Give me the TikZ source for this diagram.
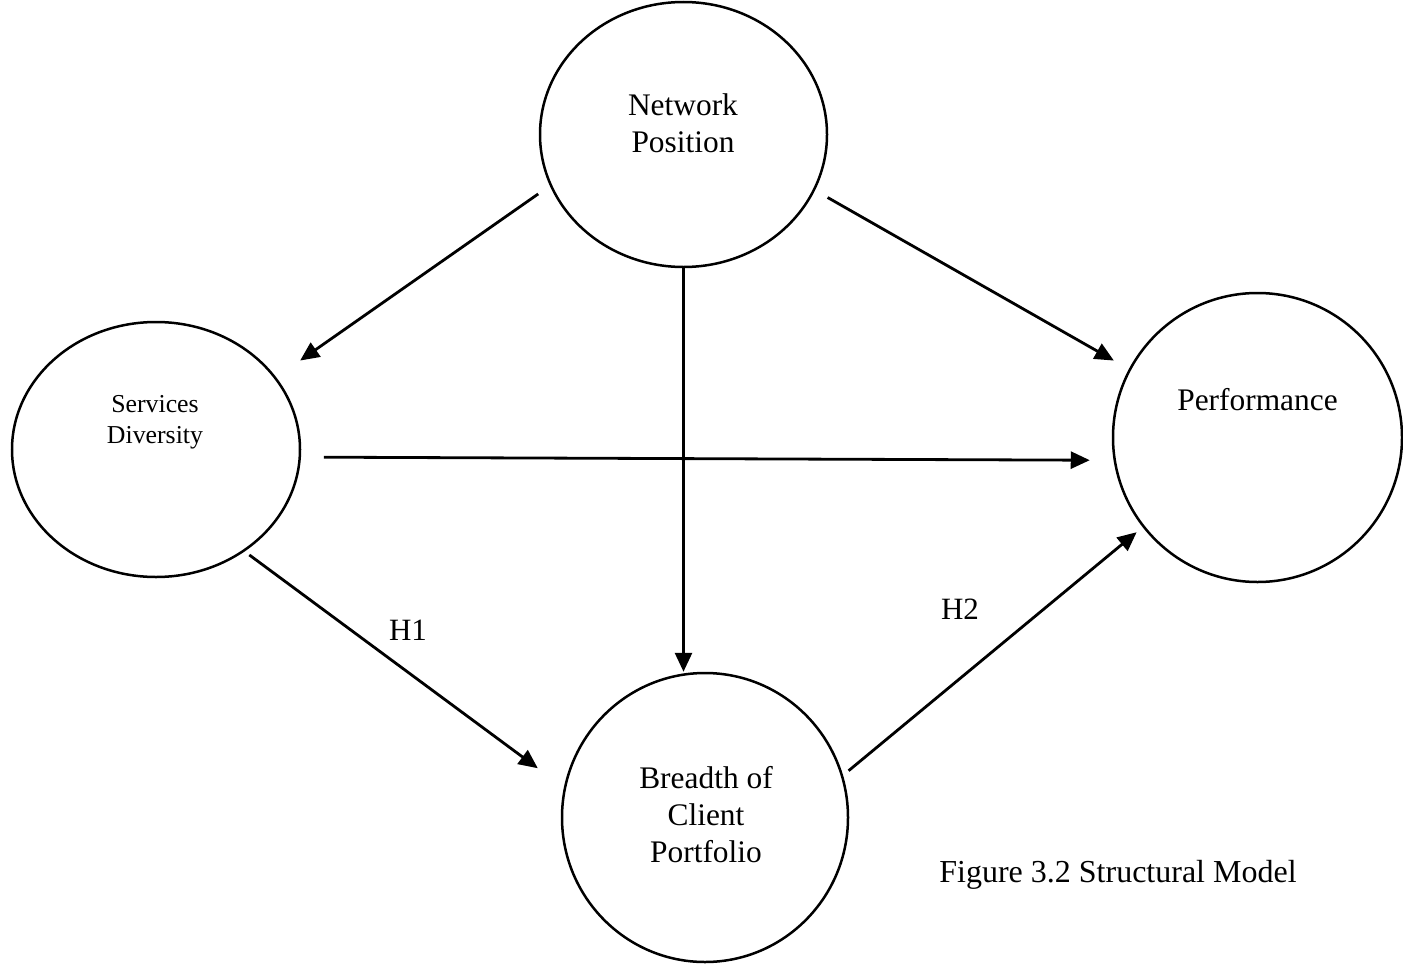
\documentclass[tikz,border=0pt]{standalone}
\usepackage{fontspec}
\setmainfont{Liberation Serif}
\usetikzlibrary{shapes.geometric,arrows.meta}
\begin{document}
\begin{tikzpicture}[x=0.5pt,y=-0.5pt,
  construct/.style={draw, ellipse, line width=1.25pt, inner sep=0pt},
  ctext/.style={align=center, inner sep=0pt, font=\fontsize{15.7}{18.5}\selectfont},
  stext/.style={align=center, inner sep=0pt, font=\fontsize{12.9}{15.5}\selectfont},
  htext/.style={inner sep=0pt, font=\fontsize{15.5}{18}\selectfont},
  patharrow/.style={-{Triangle[length=9.5pt,width=8.5pt]}, line width=1.4pt}]
\useasboundingbox (0,0) rectangle (1403,969);

% latent constructs
\node[construct, minimum width=143.5pt, minimum height=132.5pt] (np) at (683.5,134.5) {};
\node[construct, minimum width=144pt, minimum height=127.5pt] (sd) at (156,449.5) {};
\node[construct, minimum width=144.5pt, minimum height=144.5pt] (pf) at (1257.5,437.5) {};
\node[construct, minimum width=143pt, minimum height=144.5pt] (bc) at (705,817.5) {};

% construct names
\node[ctext] (npt) at (683,123) {Network\\Position};
\node[stext] (sdt) at (155,422) {Services\\Diversity};
\node[ctext] (pft) at (1257.5,400) {Performance};
\node[ctext] (bct) at (706,815) {Breadth of\\Client\\Portfolio};

% structural paths
\draw[patharrow, shorten <=7.1pt, shorten >=14.6pt] (np.201.7) -- (sd.31.2);
\draw[patharrow, shorten <=7.25pt, shorten >=8.6pt] (np.337.5) -- (pf.152.9);
\draw[patharrow] (np.south) -- (np.south |- bc.north);
\draw[patharrow, shorten <=11.5pt, shorten >=11.9pt] (sd.-3) -- (pf.189);
\draw[patharrow, shorten <=2.9pt, shorten >=16.2pt] (sd.311.8) -- (bc.168.4);
\draw[patharrow, shorten <=3.6pt, shorten >=3.9pt] (bc.17.3) -- (pf.218.3);

% hypothesis labels
\node[htext] (h1) at (408,630) {H1};
\node[htext] (h2) at (960,609) {H2};

% caption
\node[inner sep=0pt, font=\fontsize{16}{19}\selectfont] (cap) at (1118,875) {Figure 3.2 Structural Model};
\end{tikzpicture}
\end{document}
